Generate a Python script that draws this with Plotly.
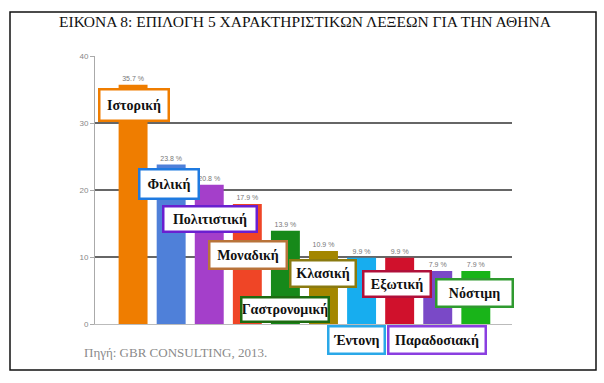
import plotly.graph_objects as go

categories = ["Ιστορική", "Φιλική", "Πολιτιστική", "Μοναδική", "Γαστρονομική",
              "Κλασική", "Έντονη", "Εξωτική", "Παραδοσιακή", "Νόστιμη"]
values = [35.7, 23.8, 20.8, 17.9, 13.9, 10.9, 9.9, 9.9, 7.9, 7.9]
bar_colors = ["#ef7d00", "#4f80d9", "#a43fca", "#ef4526", "#17891a",
              "#a38600", "#17adef", "#d0112c", "#7a49c7", "#19b419"]
box_colors = ["#ef7d00", "#1f7ae0", "#6a1fd0", "#b8733a", "#1d6b10",
              "#8a7a10", "#2aa8e8", "#b0103a", "#8a3fe0", "#2f9a2f"]
y_ticks = [0, 10, 20, 30, 40]
title = "ΕΙΚΟΝΑ 8: ΕΠΙΛΟΓΗ 5 ΧΑΡΑΚΤΗΡΙΣΤΙΚΩΝ ΛΕΞΕΩΝ ΓΙΑ ΤΗΝ ΑΘΗΝΑ"
source = "Πηγή: GBR CONSULTING, 2013."

W, H = 604, 383
L, R, T, B = 95, 92, 56, 59
PW, PH = W - L - R, H - T - B

def px(x):
    return (x - L) / PW

def py(y):
    return (H - B - y) / PH

# label box layout: center (pixel x, y), outer width, outer height
box_layout = [(134, 105, 72, 34), (169, 184, 62, 32), (210, 219, 96, 28),
              (248, 255, 80, 30), (285, 309, 90, 27), (323, 273, 68, 29),
              (356, 340, 59, 30), (397, 284, 70, 28), (437, 340, 100, 30),
              (474, 293, 79, 30)]

fig = go.Figure()
fig.add_trace(go.Bar(
    x=list(range(len(categories))), y=values,
    marker=dict(color=bar_colors, line=dict(width=0)),
    text=[f"{v:.1f} %" for v in values], textposition="outside",
    textfont=dict(size=7, color="#777777", family="Liberation Sans"),
    cliponaxis=False, width=0.76,
))

ann = []
ann.append(dict(text=title, x=px(305), y=py(22), xref="paper", yref="paper",
                xanchor="center", yanchor="middle", showarrow=False,
                font=dict(family="Liberation Serif", size=15.5, color="#111111")))
ann.append(dict(text=source, x=px(82), y=py(352), xref="paper", yref="paper",
                xanchor="left", yanchor="middle", showarrow=False,
                font=dict(family="Liberation Serif", size=13, color="#8a8a8a")))
for name, col, (cx, cy, bw, bh) in zip(categories, box_colors, box_layout):
    ann.append(dict(text=f"<b>{name}</b>", x=px(cx), y=py(cy), xref="paper", yref="paper",
                    xanchor="center", yanchor="middle",
                    showarrow=False, bgcolor="white", bordercolor=col, borderwidth=2.5,
                    borderpad=0, width=bw - 5, height=bh - 5, align="center",
                    font=dict(family="Liberation Serif", size=14, color="#111111")))

fig.update_layout(
    width=W, height=H, margin=dict(l=L, r=R, t=T, b=B),
    paper_bgcolor="white", plot_bgcolor="white", showlegend=False,
    annotations=ann,
    shapes=[dict(type="rect", xref="paper", yref="paper",
                 x0=px(10), x1=px(596), y0=py(370), y1=py(12),
                 line=dict(color="#111111", width=1.5), layer="below")],
    bargap=0.24,
)
fig.update_xaxes(range=[-1.0, 9.95], showticklabels=False, showgrid=False,
                 showline=True, linecolor="#bbbbbb", ticks="", zeroline=False)
fig.update_yaxes(range=[0, 40], tickvals=y_ticks, showgrid=True, gridcolor="#666666",
                 gridwidth=1.5, showline=True, linecolor="#aaaaaa", ticks="outside",
                 ticklen=4, tickcolor="#aaaaaa", zeroline=False,
                 tickfont=dict(size=8, color="#888888", family="Liberation Sans"))

fig.write_html("out.html", config={"displayModeBar": False},
               post_script="document.body.style.margin='0';")
